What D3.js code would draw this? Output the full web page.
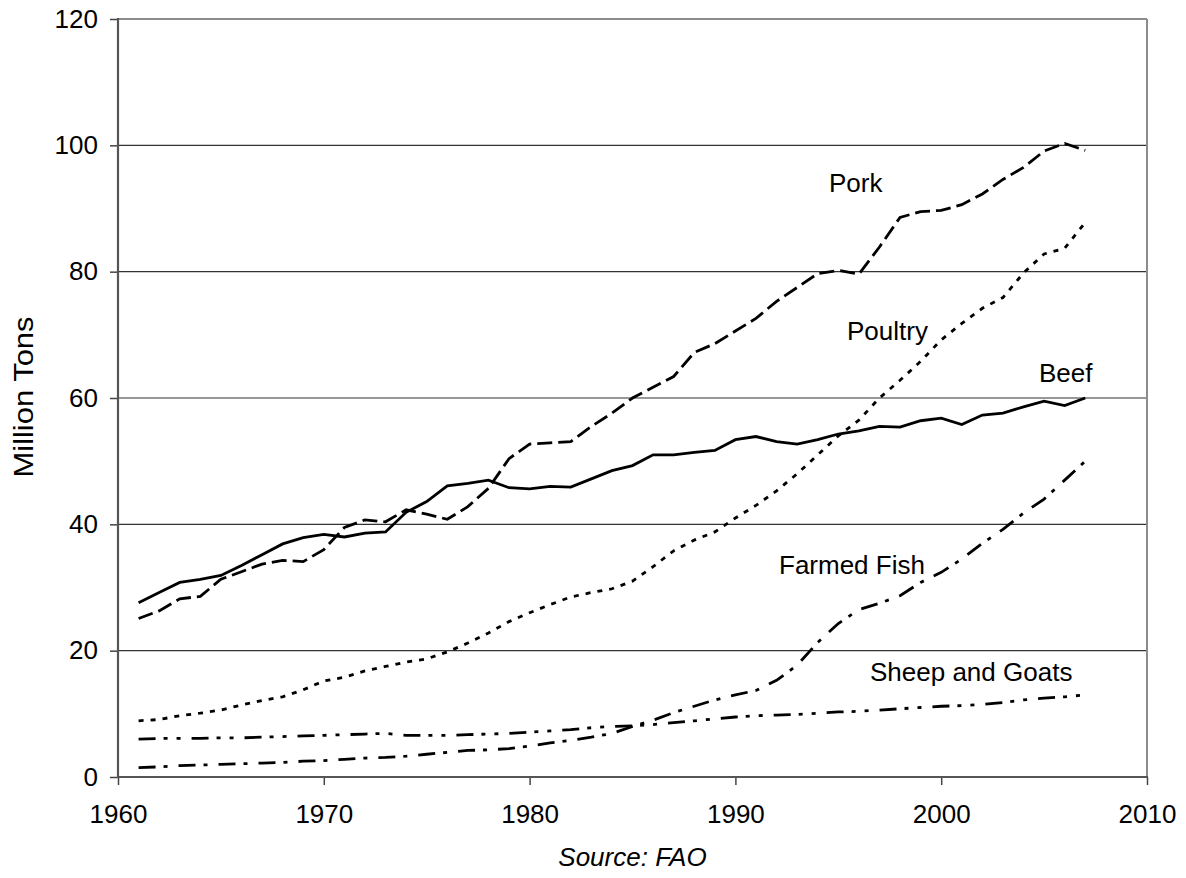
<!DOCTYPE html>
<html><head><meta charset="utf-8">
<script src="https://cdn.jsdelivr.net/npm/d3@7"></script>
<style>
body{margin:0;background:#fff;}
text{font-family:"Liberation Sans",Arial,Helvetica,sans-serif;fill:#000;}
</style>
</head><body>
<svg id="chart" width="1186" height="878"></svg>
<script>
const years = [1961,1962,1963,1964,1965,1966,1967,1968,1969,1970,1971,1972,1973,1974,1975,1976,1977,1978,1979,1980,1981,1982,1983,1984,1985,1986,1987,1988,1989,1990,1991,1992,1993,1994,1995,1996,1997,1998,1999,2000,2001,2002,2003,2004,2005,2006,2007];

const pork = [25.1,26.3,28.2,28.6,31.3,32.5,33.7,34.3,34.1,36.0,39.5,40.7,40.4,42.3,41.6,40.8,42.8,45.7,50.4,52.7,52.9,53.1,55.5,57.6,60.0,61.7,63.4,67.2,68.6,70.6,72.6,75.3,77.5,79.7,80.2,79.6,83.9,88.6,89.5,89.7,90.6,92.3,94.6,96.5,99.1,100.3,99.2];
const poultry = [8.9,9.1,9.7,10.1,10.6,11.4,12.1,12.7,13.8,15.2,15.8,16.8,17.5,18.2,18.7,19.8,21.2,22.8,24.6,26.0,27.3,28.5,29.2,29.8,31.0,33.3,35.8,37.5,38.8,41.0,43.0,45.3,48.0,51.0,54.0,56.5,60.0,62.8,65.8,69.2,71.8,74.2,75.9,79.8,82.8,83.7,87.8];
const beef = [27.6,29.2,30.8,31.3,31.9,33.5,35.2,36.9,37.9,38.4,38.0,38.6,38.8,41.9,43.6,46.1,46.5,47.0,45.8,45.6,46.0,45.9,47.2,48.5,49.3,51.0,51.0,51.4,51.7,53.4,53.9,53.1,52.7,53.4,54.3,54.8,55.5,55.4,56.4,56.8,55.8,57.3,57.6,58.6,59.5,58.8,60.0];
const farmedFish = [1.5,1.6,1.8,1.9,2.0,2.1,2.2,2.3,2.5,2.6,2.8,3.0,3.1,3.3,3.6,3.9,4.2,4.3,4.5,4.9,5.4,5.8,6.3,6.9,8.0,9.0,10.2,11.2,12.2,13.0,13.7,15.3,17.7,21.3,24.3,26.5,27.5,28.7,30.8,32.4,34.5,37.0,39.2,41.8,44.0,47.0,50.0];
const sheepGoats = [6.0,6.1,6.1,6.1,6.2,6.2,6.3,6.4,6.5,6.6,6.7,6.8,6.9,6.6,6.6,6.6,6.7,6.8,6.9,7.1,7.3,7.5,7.8,8.0,8.1,8.3,8.6,8.9,9.2,9.5,9.7,9.8,9.9,10.1,10.3,10.4,10.6,10.8,11.0,11.2,11.3,11.5,11.8,12.2,12.5,12.7,13.0];

const seriesNames = ["Pork","Poultry","Beef","Farmed Fish","Sheep and Goats"];
const yTicks = [0,20,40,60,80,100,120];
const xTicks = [1960,1970,1980,1990,2000,2010];
const yTitle = "Million Tons";
const sourceText = "Source: FAO";

const seriesValues = [pork, poultry, beef, farmedFish, sheepGoats];
const dashes = ["15,6", "5,7", null, "17,8,4,11", "17,8,4,9,4,11"];
const labelPos = [[829,192],[847,340],[1039,382],[779,574],[870,681]];

const svg = d3.select("#chart");
const L = 118, T = 19, R = 1147, B = 777;
const x = d3.scaleLinear().domain([1960, 2010]).range([L, R]);
const y = d3.scaleLinear().domain([0, 120]).range([B, T]);
const FS = 26;

// gridlines
svg.append("g").selectAll("line").data(yTicks.filter(v => v > 0 && v < 120)).join("line")
  .attr("x1", L).attr("x2", R).attr("y1", d => y(d)).attr("y2", d => y(d))
  .attr("stroke", "#333").attr("stroke-width", 1.2);

// frame top/right
svg.append("line").attr("x1", L).attr("x2", R).attr("y1", y(120)).attr("y2", y(120))
  .attr("stroke", "#8c8c8c").attr("stroke-width", 2);
svg.append("line").attr("x1", R).attr("x2", R).attr("y1", T).attr("y2", B)
  .attr("stroke", "#8c8c8c").attr("stroke-width", 2);

// axes
const yAxis = d3.axisLeft(y).tickValues(yTicks).tickSize(8).tickPadding(12).tickFormat(d3.format("d"));
const gy = svg.append("g").attr("transform", `translate(${L},0)`).call(yAxis);
const xAxis = d3.axisBottom(x).tickValues(xTicks).tickSize(8).tickPadding(20).tickFormat(d3.format("d"));
const gx = svg.append("g").attr("transform", `translate(0,${B})`).call(xAxis);
[gx, gy].forEach(g => {
  g.select(".domain").remove();
  g.selectAll(".tick line").attr("stroke", "#444").attr("stroke-width", 1.5);
  g.selectAll(".tick text").attr("font-size", FS).attr("font-family", '"Liberation Sans",Arial,sans-serif').attr("fill", "#000");
});
svg.append("line").attr("x1", L).attr("x2", L).attr("y1", T - 1).attr("y2", B + 1)
  .attr("stroke", "#555").attr("stroke-width", 2.2);
svg.append("line").attr("x1", L - 1).attr("x2", R + 1).attr("y1", B).attr("y2", B)
  .attr("stroke", "#555").attr("stroke-width", 2.2);

// series lines
const line = d3.line().x((d, i) => x(years[i])).y(d => y(d));
seriesValues.forEach((vals, k) => {
  svg.append("path").datum(vals)
    .attr("d", line)
    .attr("fill", "none")
    .attr("stroke", "#000")
    .attr("stroke-width", 2.8)
    .attr("stroke-linejoin", "miter")
    .attr("stroke-linecap", "butt")
    .attr("stroke-dasharray", dashes[k]);
});

// series labels
seriesNames.forEach((n, k) => {
  svg.append("text").attr("x", labelPos[k][0]).attr("y", labelPos[k][1])
    .attr("font-size", FS).text(n);
});

// y title
svg.append("text").attr("transform", `translate(33,397) rotate(-90)`)
  .attr("text-anchor", "middle").attr("font-size", 27)
  .attr("textLength", 161).attr("lengthAdjust", "spacingAndGlyphs").text(yTitle);

// source
svg.append("text").attr("x", (L + R) / 2).attr("y", 866).attr("text-anchor", "middle")
  .attr("font-size", FS).attr("font-style", "italic").text(sourceText);
</script>
</body></html>
